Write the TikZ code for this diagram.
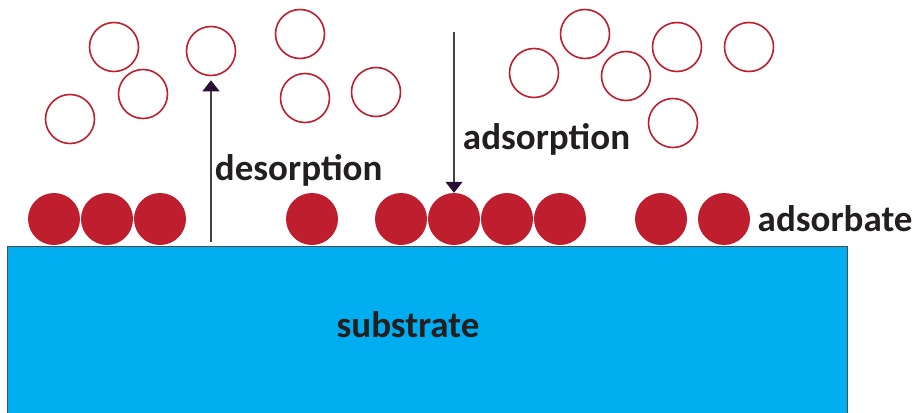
\documentclass[tikz,border=0pt]{standalone}
\usepackage{fontspec}
\setmainfont{Carlito}
\usetikzlibrary{arrows.meta,positioning}
\definecolor{molred}{HTML}{BE1E2D}
\definecolor{subblue}{HTML}{00AEEF}
\definecolor{txt}{HTML}{231F20}
\definecolor{tipcol}{HTML}{2B0F36}
\tikzset{
  ads/.style={circle,fill=molred,minimum size=52pt,inner sep=0pt},
  gas/.style={circle,draw=molred,line width=1.6pt,minimum size=49pt,inner sep=0pt},
  lbl/.style={text=txt,font=\fontsize{37}{40}\selectfont\bfseries},
  arr/.style={draw=txt!85,line width=1.3pt,-{Triangle[width=17pt,length=11pt,color=tipcol]}}
}
\begin{document}
\begin{tikzpicture}[x=1pt,y=-1pt]
		\useasboundingbox (0,0) rectangle (917,412);
		\clip (0,0) rectangle (917,412);
		% substrate
		\fill[subblue,draw=txt!80,line width=0.8pt] (7,246) rectangle (847,430);
		\node[lbl] (sub) at (408,325) {substrate};
		% adsorbed layer
		\foreach \x [count=\i] in {54,107,160,312,401,454,507,560,661,724}
		\node[ads] (a\i) at (\x,219) {};
		\node[lbl,right=4pt of a10] (ab) {adsorbate};
		% gas phase
		\foreach \p [count=\i] in {(70,119),(114,47),(143,94),(211,51),(300,34),(305,98),(376,92),(534,73),(585,34),(626,76),(677,47),(749,47),(673,123)}
		\node[gas] (g\i) at \p {};
		% exchange
		\coordinate (d0) at (211,242);
		\coordinate (s0) at (454,32);
		\draw [arr,shorten >=4pt] (d0) -- node [lbl,right,pos=0.43] {desorption} (g4.south);
		\draw [arr] (s0) -- node [lbl,right=5pt,pos=0.67] {adsorption} (a6.north);
		\end{tikzpicture}
\end{document}
